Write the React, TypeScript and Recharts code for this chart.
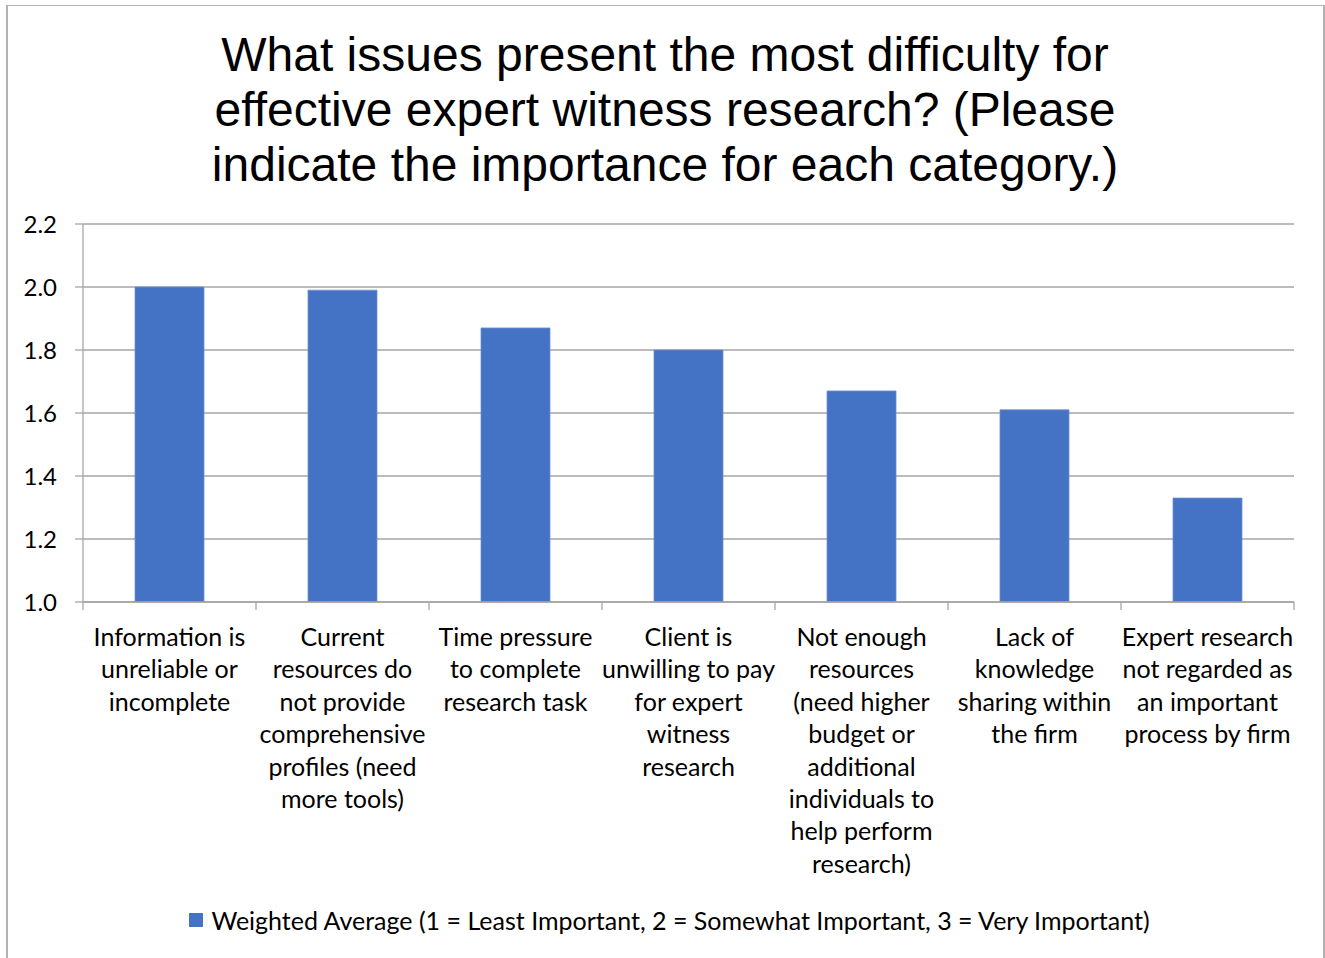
import { BarChart, Bar, XAxis, YAxis, CartesianGrid, Legend } from "recharts";

const categories = [
  "Information is unreliable or incomplete",
  "Current resources do not provide comprehensive profiles (need more tools)",
  "Time pressure to complete research task",
  "Client is unwilling to pay for expert witness research",
  "Not enough resources (need higher budget or additional individuals to help perform research)",
  "Lack of knowledge sharing within the firm",
  "Expert research not regarded as an important process by firm",
];

// wrapped lines for each category label
const tickLines = [
  ["Information is", "unreliable or", "incomplete"],
  ["Current", "resources do", "not provide", "comprehensive", "profiles (need", "more tools)"],
  ["Time pressure", "to complete", "research task"],
  ["Client is", "unwilling to pay", "for expert", "witness", "research"],
  ["Not enough", "resources", "(need higher", "budget or", "additional", "individuals to", "help perform", "research)"],
  ["Lack of", "knowledge", "sharing within", "the firm"],
  ["Expert research", "not regarded as", "an important", "process by firm"],
];

const weightedAverage = [2.0, 1.99, 1.87, 1.8, 1.67, 1.61, 1.33];

const yTicks = [1.0, 1.2, 1.4, 1.6, 1.8, 2.0, 2.2];

const seriesName =
  "Weighted Average (1 = Least Important, 2 = Somewhat Important, 3 = Very Important)";

const data = categories.map((name, i) => ({ name, value: weightedAverage[i], lines: tickLines[i] }));

const AXIS_GRAY = "#a6a6a6";
const BAR_BLUE = "#4472c4";
const LABEL_FONT = "Lato, 'Open Sans', sans-serif";

const CategoryTick = (props: any) => {
  const { x, y, index, width, visibleTicksCount } = props;
  const step = width / visibleTicksCount;
  const lines = tickLines[index] || [];
  const left = x - step / 2;
  const right = x + step / 2;
  return (
    <g>
      <line x1={left} x2={left} y1={y - 8} y2={y} stroke={AXIS_GRAY} strokeWidth={1.3} />
      {index === visibleTicksCount - 1 && (
        <line x1={right} x2={right} y1={y - 8} y2={y} stroke={AXIS_GRAY} strokeWidth={1.3} />
      )}
      <text
        x={x}
        y={y + 36}
        textAnchor="middle"
        fill="#000"
        fontSize={25}
        fontFamily={LABEL_FONT}
      >
        {lines.map((l: string, i: number) => (
          <tspan key={i} x={x} dy={i === 0 ? 0 : 32.4}>
            {l}
          </tspan>
        ))}
      </text>
    </g>
  );
};

const LegendContent = () => (
  <div
    style={{
      display: "flex",
      justifyContent: "center",
      alignItems: "center",
      fontFamily: LABEL_FONT,
      fontSize: 25,
      color: "#000",
      height: 30,
      transform: "translateX(11px)",
    }}
  >
    <span style={{ width: 14, height: 14, background: BAR_BLUE, marginRight: 8, display: "inline-block" }} />
    <span>{seriesName}</span>
  </div>
);

export default function App() {
  return (
    <div style={{ position: "absolute", left: 0, top: 0, width: 1325, height: 958, background: "#fff", overflow: "hidden" }}>
      <div
        style={{
          position: "absolute",
          left: 6,
          top: 5,
          width: 1315,
          height: 980,
          borderTop: "1.5px solid #b2b2b2",
          borderLeft: "2px solid #b2b2b2",
          borderRight: "2px solid #b2b2b2",
        }}
      />
      <div
        style={{
          position: "absolute",
          left: 0,
          top: 27,
          width: 1330,
          textAlign: "center",
          fontFamily: "'Liberation Sans', Arial, sans-serif",
          fontSize: 48,
          lineHeight: "55px",
          color: "#000",
        }}
      >
        What issues present the most difficulty for
        <br />
        effective expert witness research? (Please
        <br />
        indicate the importance for each category.)
      </div>
      <div style={{ position: "absolute", left: 0, top: 0 }}>
        <BarChart
          width={1325}
          height={958}
          data={data}
          margin={{ top: 224, right: 31, left: 23, bottom: 0 }}
        >
          <CartesianGrid horizontal vertical={false} stroke={AXIS_GRAY} strokeWidth={1.3} />
          <XAxis
            dataKey="name"
            interval={0}
            height={299}
            stroke={AXIS_GRAY}
            strokeWidth={1.3}
            tickLine={false}
            tickSize={8}
            tickMargin={0}
            tick={<CategoryTick />}
          />
          <YAxis
            domain={[1, 2.2]}
            ticks={yTicks}
            width={60}
            stroke={AXIS_GRAY}
            strokeWidth={1.3}
            tickSize={8}
            tickMargin={18}
            tickFormatter={(v: number) => v.toFixed(1)}
            tick={{ fill: "#000", fontSize: 24, fontFamily: LABEL_FONT }}
            allowDataOverflow
          />
          <Bar
            dataKey="value"
            name={seriesName}
            fill={BAR_BLUE}
            stroke="#6d8fd0"
            strokeWidth={0.8}
            barSize={69}
            isAnimationActive={false}
          />
          <Legend
            verticalAlign="bottom"
            content={<LegendContent />}
            wrapperStyle={{ height: 53, paddingTop: 4 }}
          />
        </BarChart>
      </div>
    </div>
  );
}
